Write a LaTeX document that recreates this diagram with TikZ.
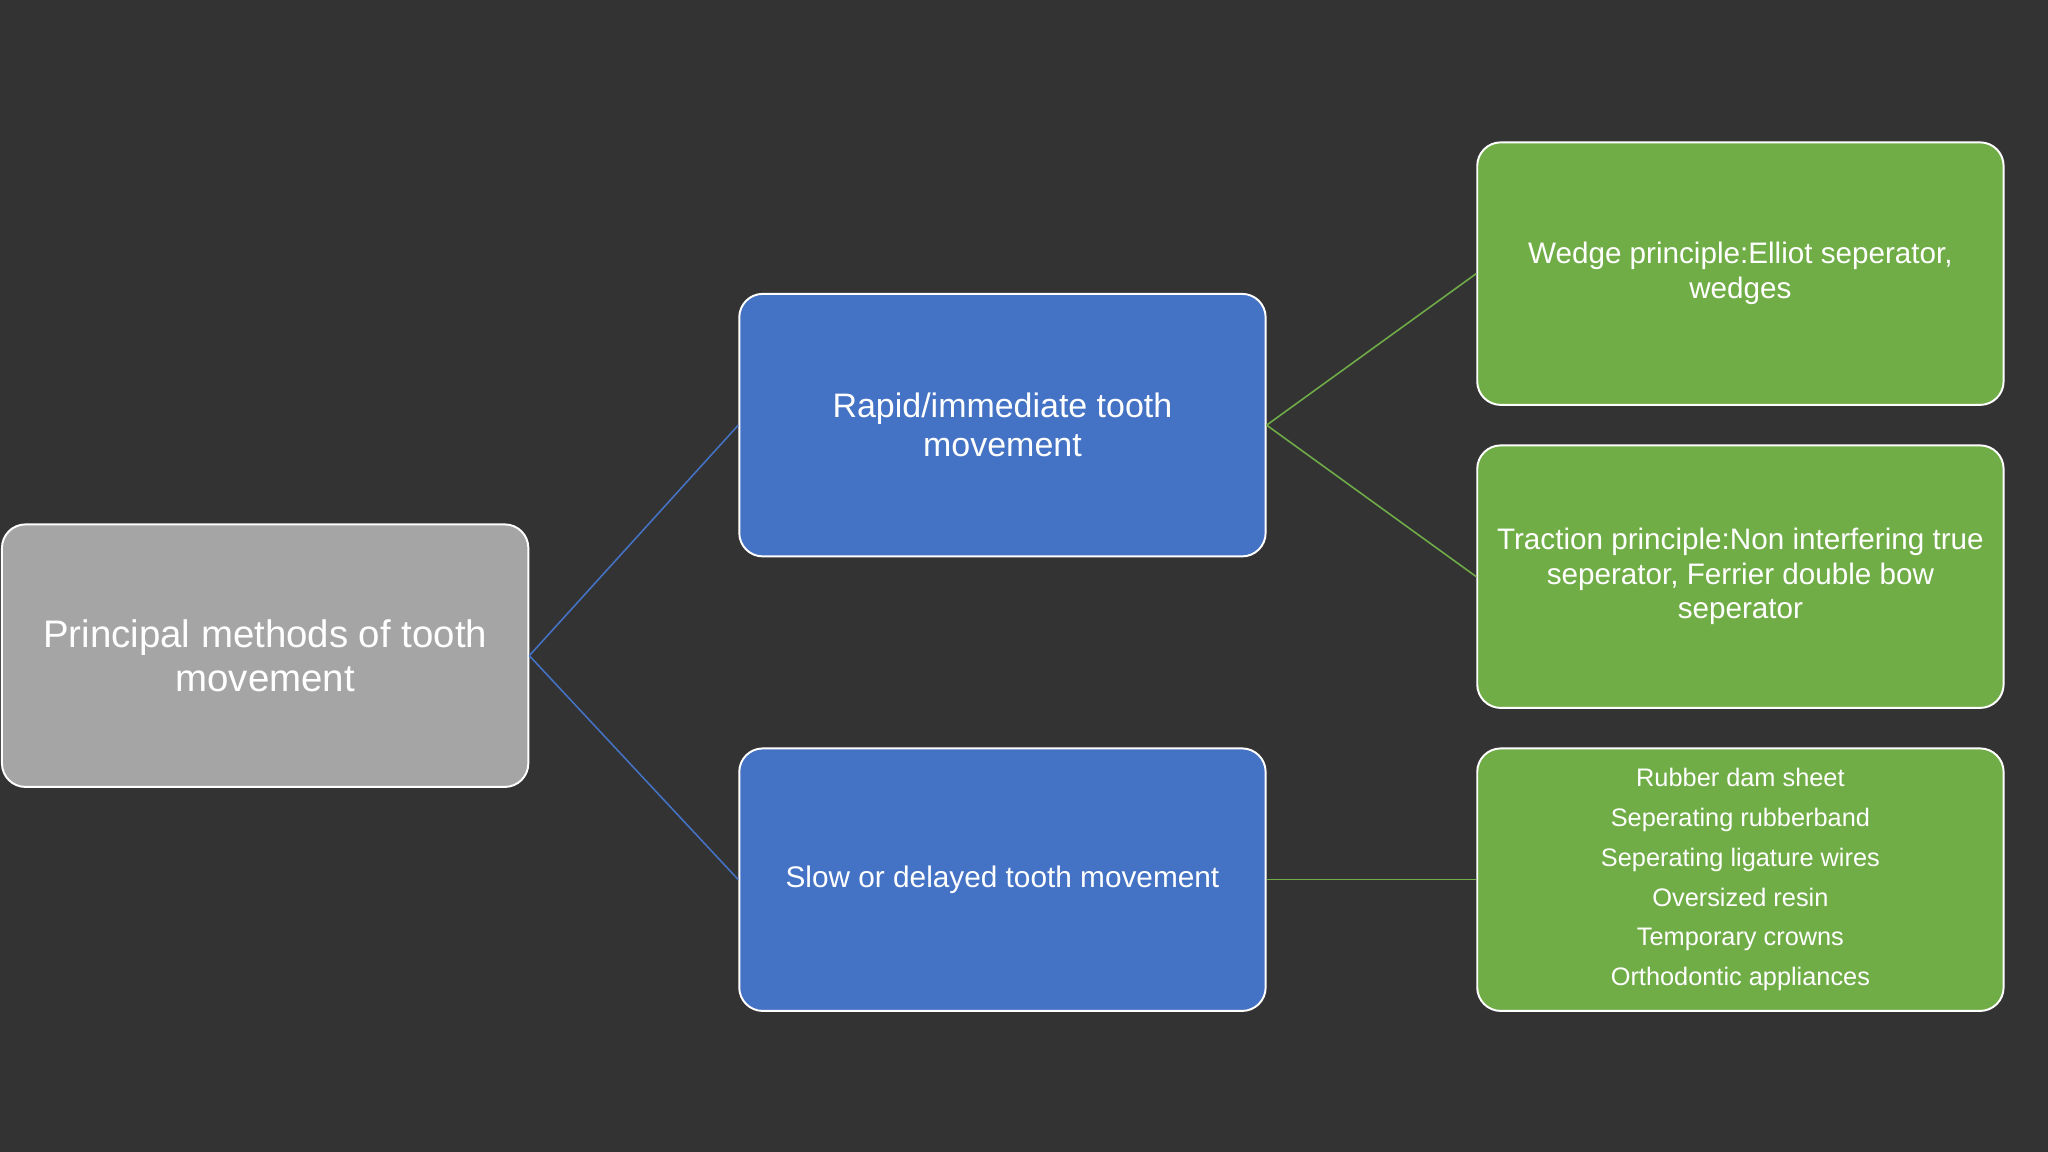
\documentclass[tikz,border=0pt]{standalone}
\usepackage{fontspec}
\setmainfont{Liberation Sans}
\definecolor{bg}{HTML}{333333}
\definecolor{gbox}{HTML}{A5A5A5}
\definecolor{bbox}{HTML}{4472C4}
\definecolor{grbox}{HTML}{70AD47}
\tikzset{
  box/.style={draw=white, line width=1.5pt, rounded corners=18pt, minimum width=403pt, minimum height=201pt, text=white, align=center},
  gray/.style={box, fill=gbox, font=\fontsize{29.4}{34}\selectfont},
  blue/.style={box, fill=bbox, font=\fontsize{22.8}{30}\selectfont},
  green/.style={box, fill=grbox, font=\fontsize{22.7}{26.5}\selectfont},
  bline/.style={draw=bbox, line width=1.2pt},
  gline/.style={draw=grbox, line width=1.2pt}
}
\begin{document}
\begin{tikzpicture}[x=1pt,y=-1pt]
\fill[bg] (0,0) rectangle (1568,882);
\useasboundingbox (0,0) rectangle (1568,882);
\node[gray] (p) at (203,502) {Principal methods of tooth\\movement};
\node[blue, font=\fontsize{26}{30}\selectfont] (r) at (767.5,325.5) {Rapid/immediate tooth\\movement};
\node[blue] (s) at (767.5,673.5) {Slow or delayed tooth movement};
\node[green] (w) at (1332.5,209.5) {Wedge principle:Elliot seperator,\\wedges};
\node[green] (t) at (1332.5,441.5) {Traction principle:Non interfering true\\seperator, Ferrier double bow\\seperator};
\node[green, font=\fontsize{19.4}{30.4}\selectfont] (l) at (1332.5,673.5) {Rubber dam sheet\\Seperating rubberband\\Seperating ligature wires\\Oversized resin\\Temporary crowns\\Orthodontic appliances};
\draw[bline] (p.east) -- (r.west);
\draw[bline] (p.east) -- (s.west);
\draw[gline] (r.east) -- (w.west);
\draw[gline] (r.east) -- (t.west);
\draw[gline] (s.east) -- (l.west);
\end{tikzpicture}
\end{document}
